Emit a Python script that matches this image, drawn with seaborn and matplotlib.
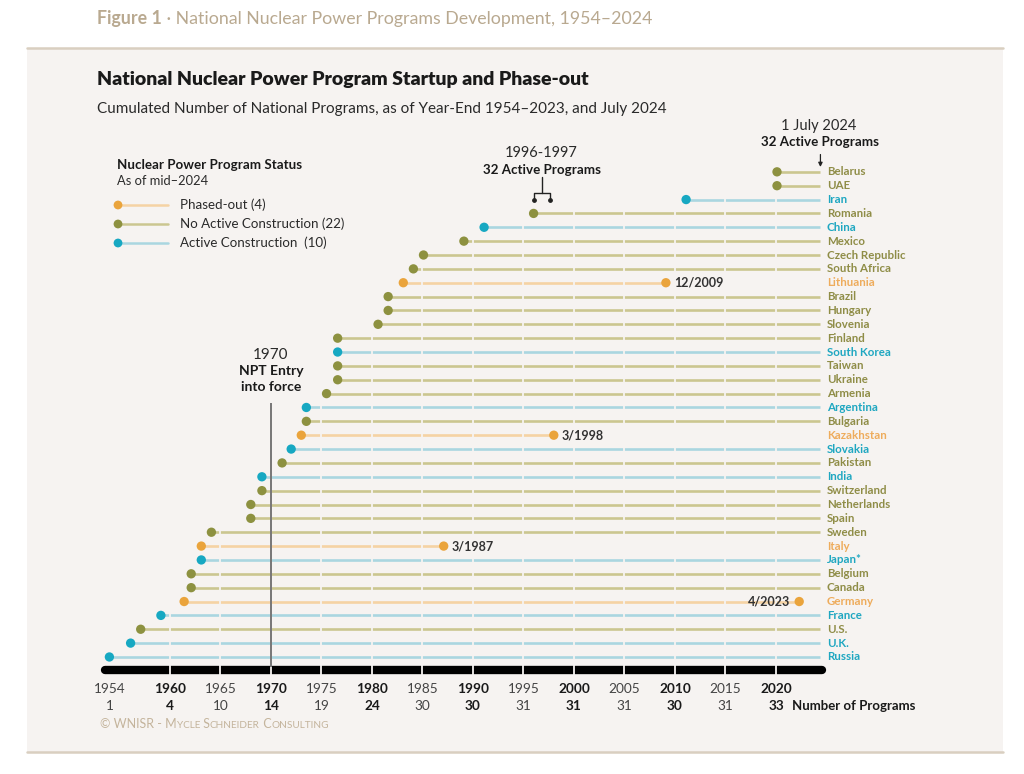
"""
Nuclear power programs startup and phase-out, 1954-2024 (WNISR Figure 1)
Timeline chart: one row per country, dot at program startup,
line until July 2024 or until phase-out.
"""

import numpy as np
import pandas as pd
import matplotlib
matplotlib.use("Agg")
import matplotlib.pyplot as plt
import seaborn as sns

# ============================================================================
# DATA (top row first)
# ============================================================================
countries = [
    "Belarus", "UAE", "Iran", "Romania", "China", "Mexico", "Czech Republic",
    "South Africa", "Lithuania", "Brazil", "Hungary", "Slovenia", "Finland",
    "South Korea", "Taiwan", "Ukraine", "Armenia", "Argentina", "Bulgaria",
    "Kazakhstan", "Slovakia", "Pakistan", "India", "Switzerland", "Netherlands",
    "Spain", "Sweden", "Italy", "Japan*", "Belgium", "Canada", "Germany",
    "France", "U.S.", "U.K.", "Russia",
]
start_year = [
    2020.1, 2020.1, 2011.1, 1996.0, 1991.1, 1989.1, 1985.1,
    1984.1, 1983.1, 1981.6, 1981.6, 1980.6, 1976.6,
    1976.6, 1976.6, 1976.6, 1975.5, 1973.5, 1973.5,
    1973.0, 1972.0, 1971.1, 1969.1, 1969.1, 1968.0,
    1968.0, 1964.1, 1963.1, 1963.1, 1962.1, 1962.1, 1961.4,
    1959.1, 1957.1, 1956.1, 1954.0,
]
# status: P = phased-out, N = no active construction, A = active construction
status = [
    "N", "N", "A", "N", "A", "N", "N",
    "N", "P", "N", "N", "N", "N",
    "A", "N", "N", "N", "A", "N",
    "P", "A", "N", "A", "N", "N",
    "N", "N", "P", "A", "N", "N", "P",
    "A", "N", "A", "A",
]
# phase-out dates
phaseout_country = ["Lithuania", "Kazakhstan", "Italy", "Germany"]
phaseout_year = [2009.1, 1998.0, 1987.1, 2022.3]
phaseout_label = ["12/2009", "3/1998", "3/1987", "4/2023"]
END_JULY_2024 = 2024.4

# bottom scale
tick_years = [1954, 1960, 1965, 1970, 1975, 1980, 1985, 1990, 1995, 2000,
              2005, 2010, 2015, 2020]
program_counts = [1, 4, 10, 14, 19, 24, 30, 30, 31, 31, 31, 30, 31, 33]

# ============================================================================
# STYLE
# ============================================================================
BG = "#f6f3f1"
TAN = "#b9a990"
DOT = {"P": "#eaa43c", "N": "#8d9140", "A": "#17a8c2"}
LINE = {"P": "#f5d3a4", "N": "#cbc690", "A": "#aad6e0"}
TXT = {"P": "#eeac5c", "N": "#8f8d47", "A": "#1fa7c1"}
LEGEND_LABEL = {"P": "Phased-out (4)", "N": "No Active Construction (22)",
                "A": "Active Construction  (10)"}

FONT = ["Lato", "DejaVu Sans"]

sns.set_theme(style="white")
plt.rcParams["font.family"] = FONT

# ============================================================================
# DATA FRAME
# ============================================================================
n = len(countries)
df = pd.DataFrame({
    "country": countries,
    "start": start_year,
    "status": status,
    "row": np.arange(n)[::-1],
})
end_map = dict(zip(phaseout_country, phaseout_year))
df["end"] = [end_map.get(c, END_JULY_2024) for c in countries]
po = pd.DataFrame({"country": phaseout_country, "end": phaseout_year,
                   "label": phaseout_label})
po = po.merge(df[["country", "row", "status"]], on="country")

# ============================================================================
# FIGURE
# ============================================================================
fig = plt.figure(figsize=(10.24, 7.74), dpi=100)
fig.patch.set_facecolor("white")

# decoration layer in pixel coordinates
fax = fig.add_axes([0, 0, 1, 1])
fax.set_xlim(0, 1024)
fax.set_ylim(774, 0)
fax.axis("off")
fax.add_patch(plt.Rectangle((27, 48), 976, 704, facecolor=BG, edgecolor="none", zorder=0))
fax.plot([27, 1003], [48, 48], color="#d9cfc0", lw=1.8)
fax.plot([27, 1003], [752, 752], color="#d9cfc0", lw=1.8)

t1 = fax.text(97, 27, "Figure 1", fontsize=12.8, fontweight="bold", color=TAN,
              va="bottom")
fax.annotate(" \u00b7 National Nuclear Power Programs Development, 1954\u20132024",
             xy=(1, 0), xycoords=t1, va="bottom", ha="left", fontsize=12.8,
             color=TAN)

fax.text(97, 79, "National Nuclear Power Program Startup and Phase-out",
         fontsize=14, fontweight="heavy", color="#1a1a1a", va="center")
fax.text(97, 109, "Cumulated Number of National Programs, as of Year-End 1954\u20132023, and July 2024",
         fontsize=11, color="#2a2a2a", va="center")

# legend
fax.text(117, 165, "Nuclear Power Program Status", fontsize=9.6, fontweight="bold",
         color="#1a1a1a", va="center")
fax.text(117, 181, "As of mid\u20132024", fontsize=9.3, color="#2a2a2a", va="center")
for k, yy in zip(["P", "N", "A"], [205, 224, 243]):
    fax.plot([118, 168], [yy, yy], color=LINE[k], lw=1.8, zorder=2)
    fax.scatter([118], [yy], s=40, color=DOT[k], zorder=3, edgecolor="none")
    fax.text(180, yy, LEGEND_LABEL[k], fontsize=9.6, color="#2a2a2a", va="center")

# copyright in small caps
prev = None
for part, big in [("\u00a9 WNISR - M", True), ("YCLE", False), (" S", True),
                  ("CHNEIDER", False), (" C", True), ("ONSULTING", False)]:
    size = 9 if big else 7.2
    if prev is None:
        prev = fax.text(100, 728, part, fontsize=size, color="#c4b49c",
                        va="baseline")
    else:
        prev = fax.annotate(part, xy=(1, 0), xycoords=prev, fontsize=size,
                            color="#c4b49c", va="bottom", ha="left")

# main chart axes: x in years, y in rows (Russia = 0)
ax = fig.add_axes([90 / 1024, 1 - 740 / 774, 910 / 1024, 620 / 774])
ax.set_zorder(1)
ax.patch.set_alpha(0)
ax.set_xlim(1952.08, 2042.18)
ax.set_ylim(-5.99, 38.74)
ax.axis("off")

# lines from startup to phase-out / July 2024
ax.hlines(df["row"], df["start"], df["end"],
          colors=[LINE[s] for s in df["status"]], lw=1.9, zorder=2)

# 5-year breaks across the lines
five = np.arange(1960, 2021, 5)
bx, by = [], []
for r in df.itertuples():
    for yr in five:
        if r.start < yr < r.end:
            bx.append(yr)
            by.append(r.row)
by = np.array(by)
ax.vlines(bx, by - 0.2, by + 0.2, color=BG, lw=1.3, zorder=3)

# time bar with 5-year separators
bar_y = -0.94
ax.plot([1953.6, 2024.6], [bar_y, bar_y], color="black", lw=6,
        solid_capstyle="round", zorder=2)
ax.vlines(five, bar_y - 0.4, bar_y + 0.4, color=BG, lw=1.3, zorder=3)

# NPT entry into force
ax.vlines(1970, -0.75, 18.3, color="#555555", lw=1.1, zorder=3.5)
ax.text(1970, 21.8, "1970", ha="center", va="center", fontsize=11, color="#2a2a2a")
ax.text(1970, 20.6, "NPT Entry", ha="center", va="center", fontsize=10,
        fontweight="bold", color="#1a1a1a")
ax.text(1970, 19.45, "into force", ha="center", va="center", fontsize=10,
        fontweight="bold", color="#1a1a1a")

# startup dots and phase-out dots
sns.scatterplot(data=df, x="start", y="row", hue="status", palette=DOT, s=45,
                edgecolor="none", legend=False, ax=ax, zorder=4)
sns.scatterplot(data=po, x="end", y="row", hue="status", palette=DOT, s=45,
                edgecolor="none", legend=False, ax=ax, zorder=4)
for _, r in po.iterrows():
    if r["country"] == "Germany":
        ax.text(r["end"] - 0.9, r["row"], r["label"], ha="right", va="center",
                fontsize=9, fontweight="bold", color="#333333")
    else:
        ax.text(r["end"] + 0.8, r["row"], r["label"], ha="left", va="center",
                fontsize=9, fontweight="bold", color="#333333")

# country labels
for _, r in df.iterrows():
    ax.text(2025.05, r["row"], r["country"], ha="left", va="center", fontsize=8.3,
            fontweight="bold", color=TXT[r["status"]])

# 1996-1997 bracket
ax.text(1996.8, 36.36, "1996-1997", ha="center", va="center", fontsize=10.5, color="#2a2a2a")
ax.text(1996.8, 35.14, "32 Active Programs", ha="center", va="center", fontsize=9.6,
        fontweight="bold", color="#1a1a1a")
ax.plot([1996.8, 1996.8], [34.6, 33.5], color="#222222", lw=1)
ax.plot([1996.0, 1996.0, 1997.6, 1997.6], [32.95, 33.5, 33.5, 32.95], color="#222222", lw=1)
ax.scatter([1996.0, 1997.6], [32.95, 32.95], s=6, color="#222222", zorder=5)

# July 2024 arrow
ax.text(2024.2, 38.3, "1 July 2024", ha="center", va="center", fontsize=10.5, color="#2a2a2a")
ax.text(2024.36, 37.16, "32 Active Programs", ha="center", va="center", fontsize=9.6,
        fontweight="bold", color="#1a1a1a")
ax.annotate("", xy=(2024.4, 35.15), xytext=(2024.4, 36.45),
            arrowprops=dict(arrowstyle="-|>", color="#222222", lw=0.9,
                            mutation_scale=6))

# bottom scale: year and cumulated number of programs
for yr, cnt in zip(tick_years, program_counts):
    w = "bold" if yr % 10 == 0 else "normal"
    col = "#1a1a1a" if w == "bold" else "#444444"
    ax.text(yr, -2.31, str(yr), ha="center", va="center", fontsize=9.8,
            fontweight=w, color=col)
    ax.text(yr, -3.54, str(cnt), ha="center", va="center", fontsize=9.8,
            fontweight=w, color=col)
ax.text(2021.6, -3.54, "Number of Programs", ha="left", va="center", fontsize=9.5,
        fontweight="bold", color="#1a1a1a")

plt.savefig("out.png", dpi=100, facecolor=fig.get_facecolor())
plt.close()
